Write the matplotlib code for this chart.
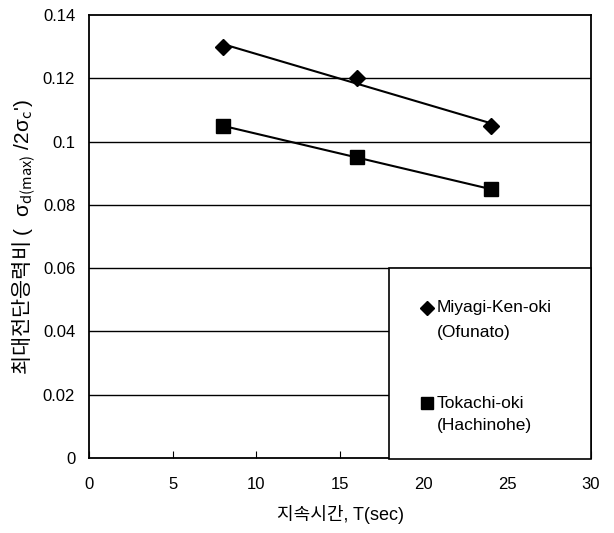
import numpy as np
import matplotlib
matplotlib.use("Agg")
import matplotlib.pyplot as plt
from matplotlib.patches import Rectangle

plt.rcParams['font.family'] = ['Liberation Sans', 'Noto Sans CJK KR']
plt.rcParams['mathtext.fontset'] = 'custom'
plt.rcParams['mathtext.rm'] = 'Noto Sans CJK KR'
plt.rcParams['mathtext.it'] = 'Noto Sans CJK KR'

# data
T = [8, 16, 24]
miyagi = [0.13, 0.12, 0.105]
tokachi = [0.105, 0.095, 0.085]
xticks = [0, 5, 10, 15, 20, 25, 30]
yticks = [0, 0.02, 0.04, 0.06, 0.08, 0.1, 0.12, 0.14]
ytick_labels = ['0', '0.02', '0.04', '0.06', '0.08', '0.1', '0.12', '0.14']

fig = plt.figure(figsize=(6.14, 5.33), dpi=100)
ax = fig.add_axes([0.145, 0.1407, 0.8176, 0.831])

for yv in yticks[1:-1]:
    ax.axhline(yv, color='black', lw=1.0, zorder=1)

# linear trend lines through each series
x = np.array(T)
for ys in (miyagi, tokachi):
    p = np.polyfit(x, ys, 1)
    ax.plot(x, np.polyval(p, x), color='black', lw=1.5, zorder=2)

ax.plot(T, miyagi, ls='none', marker='D', ms=8, color='black', zorder=3)
ax.plot(T, tokachi, ls='none', marker='s', ms=10.5, color='black', zorder=3)

ax.set_xlim(0, 30)
ax.set_ylim(0, 0.14)
ax.set_xticks(xticks)
ax.set_yticks(yticks)
ax.set_yticklabels(ytick_labels)
ax.tick_params(axis='x', direction='in', length=5, labelsize=12, pad=14)
ax.tick_params(axis='y', length=0, labelsize=12, pad=10)
for s in ax.spines.values():
    s.set_linewidth(1.3)

ax.set_xlabel('지속시간, T(sec)', fontsize=13, labelpad=9)
ax.set_ylabel("$\\mathrm{최대전단응력비}$ (  σ$_{\\mathrm{d(max)}}$ /2σ$_{\\mathrm{c}}$')",
              fontsize=15, labelpad=4)

# legend box
ax.add_patch(Rectangle((0.598, -0.003), 0.402, 0.432, transform=ax.transAxes,
                       facecolor='white', edgecolor='black', lw=1.2, zorder=4,
                       clip_on=False))
legend_items = [('D', 8, 'Miyagi-Ken-oki', '(Ofunato)', 0.339, 0.284),
                ('s', 10.5, 'Tokachi-oki', '(Hachinohe)', 0.124, 0.074)]
for mk, ms, l1, l2, y1, y2 in legend_items:
    ax.plot([0.673], [y1], marker=mk, ms=ms * 0.85, color='black',
            transform=ax.transAxes, clip_on=False, zorder=5)
    ax.text(0.693, y1, l1, transform=ax.transAxes, fontsize=12.5,
            va='center', ha='left', zorder=5)
    ax.text(0.693, y2, l2, transform=ax.transAxes, fontsize=12.5,
            va='center', ha='left', zorder=5)

fig.savefig('out.png', dpi=100)
